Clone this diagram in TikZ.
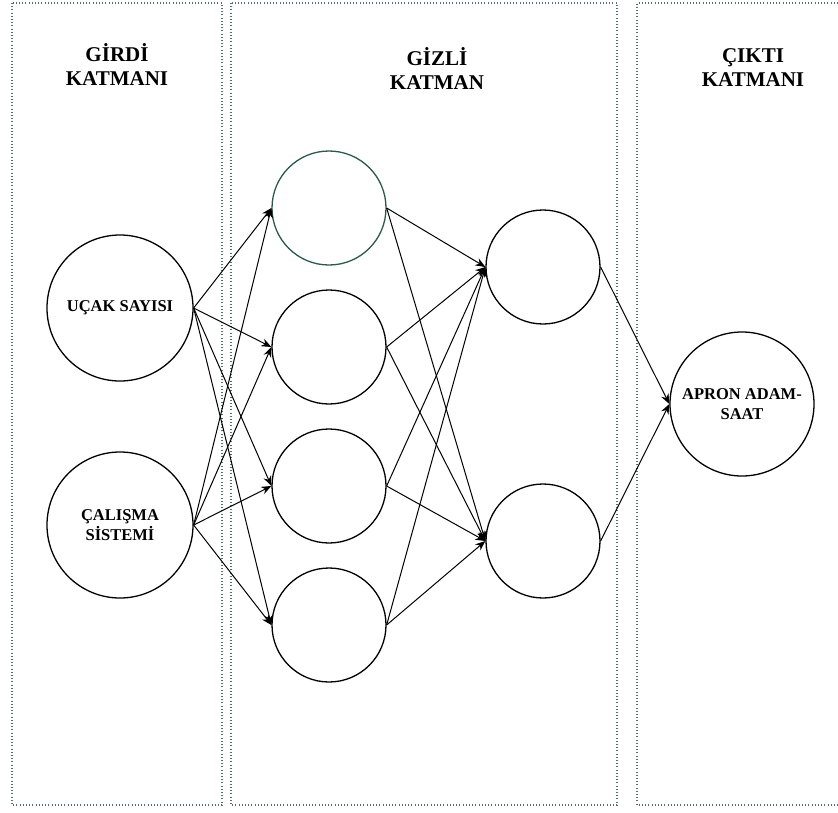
\documentclass[tikz,border=0pt]{standalone}
\usepackage{fontspec}
\setmainfont{Liberation Serif}
\usetikzlibrary{arrows.meta}
\definecolor{dotcol}{RGB}{85,110,110}
\definecolor{tealring}{RGB}{45,88,78}
\begin{document}
\begin{tikzpicture}[x=1pt,y=-1pt,
  neuron/.style={circle,draw,line width=1.3pt,inner sep=0pt,minimum size=114pt,
    font=\fontsize{16.5}{19.5}\selectfont\bfseries,align=center},
  bigneuron/.style={neuron,minimum size=146pt},
  arr/.style={line width=1pt,-{Stealth[length=10pt,width=8pt]}},
  layerbox/.style={draw=dotcol,line width=1.1pt,dash pattern=on 1pt off 2.2pt},
  title/.style={font=\fontsize{21}{24}\selectfont\bfseries,align=center}]
\useasboundingbox[fill=white] (0,0) rectangle (838,812);

% layer boxes
\draw[layerbox] (12,3) rectangle (222,805);
\draw[layerbox] (231,3) rectangle (617,805);
\draw[layerbox] (838,3) -- (637,3) -- (637,805) -- (838,805);

% titles
\node[title] (t1) at (117,64) {GİRDİ\\KATMANI};
\node[title] (t2) at (437,68) {GİZLİ\\KATMAN};
\node[title] (t3) at (753,68) {ÇIKTI\\KATMANI};

% input layer
\node[bigneuron] (i1) at (120,308) {UÇAK SAYISI};
\node[bigneuron] (i2) at (120,525) {ÇALIŞMA\\SİSTEMİ};

% hidden layer 1
\node[neuron,draw=tealring] (h1) at (329,208) {};
\node[neuron] (h2) at (329,347) {};
\node[neuron] (h3) at (329,486) {};
\node[neuron] (h4) at (329,625) {};

% hidden layer 2
\node[neuron] (g1) at (543,267) {};
\node[neuron] (g2) at (543,541) {};

% output
\node[neuron,minimum size=144pt] (o1) at (742,404) {APRON ADAM-\\SAAT};

% connections
\foreach \s in {i1,i2}
  \foreach \t in {h1,h2,h3,h4}
    \draw[arr] (\s.east) -- (\t.west);
\foreach \s in {h1,h2,h3,h4}
  \foreach \t in {g1,g2}
    \draw[arr] (\s.east) -- (\t.west);
\foreach \s in {g1,g2}
  \draw[arr] (\s.east) -- (o1.west);
\end{tikzpicture}
\end{document}
